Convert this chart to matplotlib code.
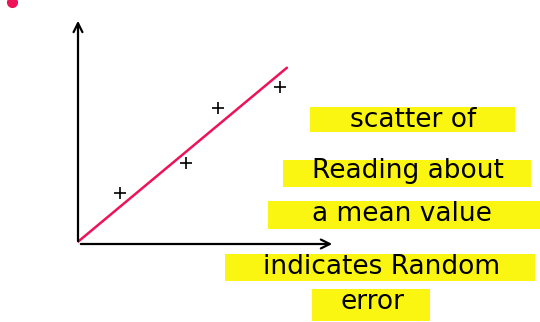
import matplotlib.pyplot as plt
from matplotlib.patches import Rectangle

# readings (crosses) and the mean line, in sketch units
read_x = [1.63, 4.2, 5.45, 7.86]
read_y = [2.26, 3.58, 6.0, 6.95]
mean_x = [0.0, 8.13]
mean_y = [0.1, 7.8]

notes = ["scatter of", "Reading about", "a mean value", "indicates Random", "error"]

fig = plt.figure(figsize=(5.4, 3.22), dpi=100)

# overlay for the notes (pixel like coords)
bg = fig.add_axes([0, 0, 1, 1])
bg.set_xlim(0, 540)
bg.set_ylim(322, 0)
bg.axis('off')

bands = [(310, 107, 205, 25), (283, 160, 248, 27), (268, 201, 272, 28),
         (225, 254, 310, 27), (312, 289, 118, 32)]
centers = [(413, 120), (408, 171), (402, 214), (382, 267), (372, 302)]
sizes = [19, 19, 19, 19, 19]
yellow = '#fbf512'
for (bx, by, bw, bh), (cx, cy), s, t in zip(bands, centers, sizes, notes):
    bg.add_patch(Rectangle((bx, by), bw, bh, facecolor=yellow, edgecolor='none'))
    bg.text(cx, cy, t, ha='center', va='center', fontsize=s,
            family='DejaVu Sans', color='black')

# little pink dot in top-left corner
bg.plot([12], [2], 'o', color='#ee1358', ms=7)

# the sketch graph
ax = fig.add_axes([78 / 540, 78 / 322, 257 / 540, 226 / 322])
ax.set_xlim(0, 10)
ax.set_ylim(0, 10)
ax.axis('off')
ax.patch.set_alpha(0)

ax.annotate('', xy=(0, 1.0), xytext=(0, 0), xycoords='axes fraction',
            arrowprops=dict(arrowstyle='->', lw=1.6, color='black', mutation_scale=16))
ax.annotate('', xy=(1.0, 0), xytext=(0, 0), xycoords='axes fraction',
            arrowprops=dict(arrowstyle='->', lw=1.6, color='black', mutation_scale=16))

ax.plot(mean_x, mean_y, color='#ee1358', lw=1.8, solid_capstyle='round')
ax.plot(read_x, read_y, '+', color='black', ms=9, mew=1.2)

plt.savefig('out.png', dpi=100)
